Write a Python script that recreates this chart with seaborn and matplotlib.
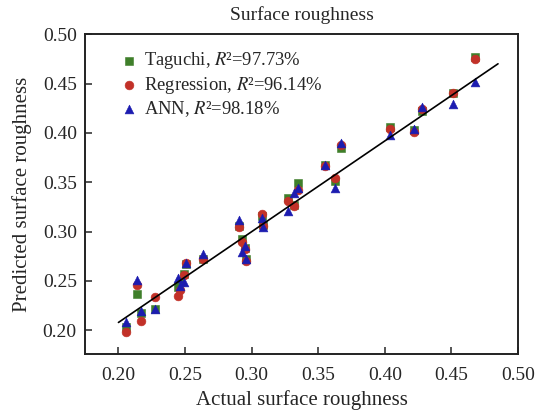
import numpy as np
import pandas as pd
import seaborn as sns
import matplotlib.pyplot as plt

# ------------ data ------------
actual = [0.2056, 0.2143, 0.2168, 0.2276, 0.2444, 0.2460, 0.2490, 0.2510, 0.2632,
          0.2908, 0.2930, 0.2950, 0.2960, 0.3078, 0.3085, 0.3270, 0.3320, 0.3350,
          0.3554, 0.3629, 0.3672, 0.4040, 0.4218, 0.4280, 0.4511, 0.4675]
taguchi = [0.203, 0.237, 0.218, 0.222, 0.244, 0.249, 0.257, 0.267, 0.272,
           0.306, 0.293, 0.283, 0.272, 0.316, 0.307, 0.334, 0.327, 0.349,
           0.367, 0.351, 0.385, 0.406, 0.403, 0.422, 0.440, 0.477]
regression = [0.198, 0.246, 0.209, 0.234, 0.235, 0.241, 0.256, 0.268, 0.272,
              0.305, 0.289, 0.282, 0.270, 0.318, 0.306, 0.331, 0.326, 0.342,
              0.366, 0.354, 0.388, 0.404, 0.401, 0.424, 0.440, 0.475]
ann = [0.208, 0.251, 0.220, 0.222, 0.253, 0.245, 0.249, 0.268, 0.277,
       0.312, 0.279, 0.285, 0.272, 0.314, 0.305, 0.321, 0.339, 0.344,
       0.367, 0.344, 0.390, 0.398, 0.404, 0.426, 0.429, 0.452]

fit_x = [0.200, 0.485]
fit_y = [0.208, 0.470]

labels = [r"Taguchi, $\mathit{R}$²=97.73%",
          r"Regression, $\mathit{R}$²=96.14%",
          r"ANN, $\mathit{R}$²=98.18%"]
ticks = [0.20, 0.25, 0.30, 0.35, 0.40, 0.45, 0.50]

# ------------ style ------------
sns.set_style("ticks")
plt.rcParams['font.family'] = ['Liberation Serif', 'DejaVu Serif']
plt.rcParams['mathtext.fontset'] = 'stix'
plt.rcParams['xtick.direction'] = 'in'
plt.rcParams['ytick.direction'] = 'in'

fig = plt.figure(figsize=(5.39, 4.17), dpi=100)
ax = fig.add_axes([0.158, 0.151, 0.803, 0.767])

series = [(taguchi, 's', '#3f7f2a', labels[0]),
          (regression, 'o', '#c23128', labels[1]),
          (ann, '^', '#1c1cb0', labels[2])]
for vals, mk, col, lab in series:
    sns.scatterplot(x=actual, y=vals, marker=mk, color=col, s=40,
                    edgecolor=col, linewidth=0.4, label=lab, ax=ax, zorder=3)

sns.lineplot(x=fit_x, y=fit_y, color='black', linewidth=1.2, ax=ax, zorder=4)

ax.set_xlim(0.175, 0.50)
ax.set_ylim(0.176, 0.50)
ax.set_xticks(ticks)
ax.set_yticks(ticks)
ax.set_xticklabels([f"{t:.2f}" for t in ticks], fontsize=14)
ax.set_yticklabels([f"{t:.2f}" for t in ticks], fontsize=14)
ax.tick_params(length=5, width=1.1, top=False, right=False, pad=6)
ax.tick_params(axis='x', pad=9)
for sp in ax.spines.values():
    sp.set_visible(True)
    sp.set_linewidth(1.4)
    sp.set_color('#222222')

ax.set_xlabel("Actual surface roughness", fontsize=15, labelpad=5)
ax.set_ylabel("Predicted surface roughness", fontsize=15, labelpad=8)
ax.set_title("Surface roughness", fontsize=14, pad=10)

ax.legend(loc='upper left', frameon=False, fontsize=13.4, handletextpad=0.2,
          borderaxespad=0.3, labelspacing=0.17, handlelength=1.2,
          markerscale=1.0, bbox_to_anchor=(0.045, 0.99))

fig.savefig("out.png", dpi=100)
